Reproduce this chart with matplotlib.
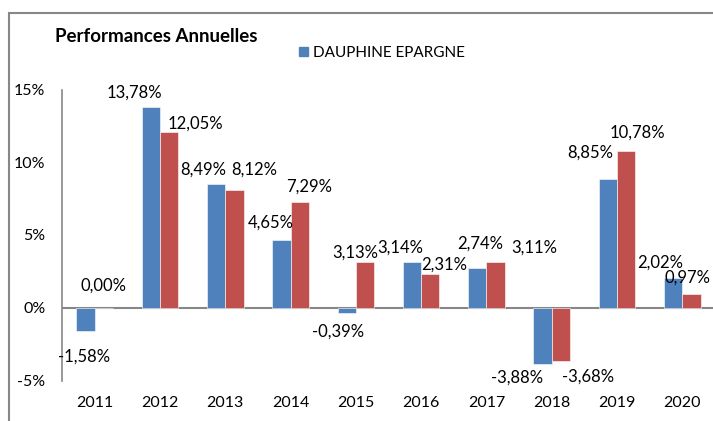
import numpy as np
import matplotlib
matplotlib.use("Agg")
import matplotlib.pyplot as plt
from matplotlib.patches import Rectangle, Patch

years = ["2011", "2012", "2013", "2014", "2015", "2016", "2017", "2018", "2019", "2020"]
dauphine = [-1.58, 13.78, 8.49, 4.65, -0.39, 3.14, 2.74, -3.88, 8.85, 2.02]
autre = [0.00, 12.05, 8.12, 7.29, 3.13, 2.31, 3.11, -3.68, 10.78, 0.97]
yticks = [-5, 0, 5, 10, 15]

# decalages des etiquettes (pixels), comme dans le graphique Excel d'origine
off_bleu = [(-1, -26), (-16, 15), (-13, 15), (-11, 17), (-9, -18),
            (-12, 14), (3, 24), (-26, -13), (-18, 26), (-13, 16)]
off_rouge = [(0, 22), (26, 9), (20, 20), (9, 15), (-10, 10),
             (14, 10), (39, 15), (27, -15), (11, 18), (-4, 16)]

plt.rcParams['font.family'] = ['Lato', 'DejaVu Sans']

BLEU = '#4F81BD'
ROUGE = '#C0504D'
GRIS = '#878787'

fig = plt.figure(figsize=(7.13, 4.21), dpi=100)
fig.patches.append(Rectangle((9 / 713, -0.1), 1.2, 1 - 13 / 421 + 0.1, transform=fig.transFigure,
                             fill=False, edgecolor=GRIS, linewidth=1.5))

ax = fig.add_axes([62 / 713, 1 - 380.5 / 421, 653 / 713, 291 / 421])
x = np.arange(len(years))
w = 0.28
b1 = ax.bar(x - w / 2, dauphine, w, color=BLEU, edgecolor='white', linewidth=0.4)
b2 = ax.bar(x + w / 2, autre, w, color=ROUGE, edgecolor='white', linewidth=0.4)

def fmt(v):
    return f"{v:.2f}".replace('.', ',') + '%'

for bars, vals, offs in [(b1, dauphine, off_bleu), (b2, autre, off_rouge)]:
    for rect, v, (dx, dy) in zip(bars, vals, offs):
        ax.annotate(fmt(v), (rect.get_x() + rect.get_width() / 2, v),
                    xytext=(dx, dy), textcoords='offset pixels',
                    ha='center', va='center', fontsize=12, color='black',
                    annotation_clip=False)

ax.set_xlim(-0.5, len(years) - 0.5)
ax.set_ylim(-5, 15)
ax.set_yticks(yticks)
ax.set_yticklabels([f"{t}%" for t in yticks], fontsize=11.5)
ax.set_xticks(x)
ax.set_xticklabels(years, fontsize=11.5)
ax.tick_params(axis='y', length=0, pad=12)
ax.tick_params(axis='x', length=0, pad=11)
for s in ['top', 'right', 'bottom']:
    ax.spines[s].set_visible(False)
ax.spines['left'].set_color(GRIS)
ax.spines['left'].set_linewidth(1.2)
ax.axhline(0, color=GRIS, linewidth=1.5, zorder=0.5)

fig.text(55 / 713, 1 - 37 / 421, "Performances Annuelles", fontsize=13.5, fontweight='bold',
         ha='left', va='center')
fig.legend(handles=[Patch(color=BLEU, label="DAUPHINE EPARGNE")],
           loc='center left', bbox_to_anchor=(293 / 713, 1 - 53 / 421),
           frameon=False, fontsize=11, handlelength=0.6, handleheight=0.6,
           handletextpad=0.3, borderaxespad=0)

fig.savefig('out.png', dpi=100)
